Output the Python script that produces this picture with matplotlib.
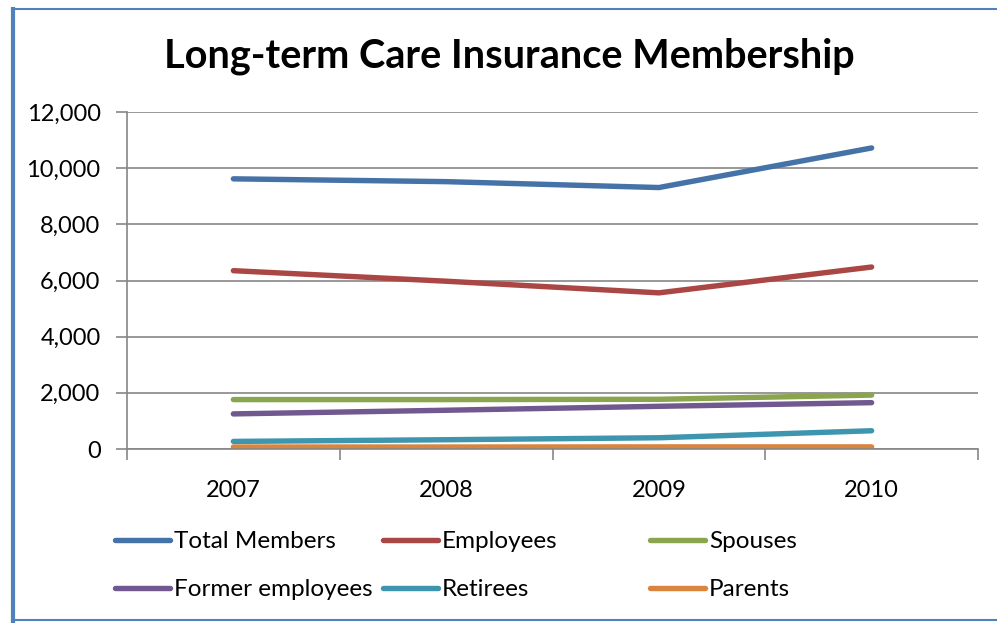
import matplotlib
matplotlib.use("Agg")
import matplotlib.pyplot as plt
from matplotlib.lines import Line2D
from matplotlib.ticker import FuncFormatter, FixedLocator

plt.rcParams['font.family'] = ['Lato', 'DejaVu Sans']

years = ["2007", "2008", "2009", "2010"]
total_members = [9620, 9520, 9310, 10720]
employees = [6350, 5975, 5560, 6480]
spouses = [1760, 1760, 1770, 1920]
former_employees = [1250, 1380, 1520, 1650]
retirees = [270, 330, 400, 650]
parents = [70, 70, 75, 75]

series_names = ["Total Members", "Employees", "Spouses",
                "Former employees", "Retirees", "Parents"]
series_values = [total_members, employees, spouses,
                 former_employees, retirees, parents]
colors = ['#4572A7', '#AA4643', '#89A54E', '#71588F', '#3D96AE', '#DB843D']

W, H = 997, 623
fig = plt.figure(figsize=(W / 100, H / 100), dpi=100)
ax = fig.add_axes([127 / W, 1 - 449 / H, (978 - 127) / W, (449 - 112) / H])

x = list(range(len(years)))
for name, vals, c in zip(series_names, series_values, colors):
    ax.plot(x, vals, color=c, lw=3.9, solid_capstyle='round',
            solid_joinstyle='round', label=name)

ax.set_xlim(-0.5, len(years) - 0.5)
ax.set_ylim(0, 12000)
ax.yaxis.set_major_locator(FixedLocator([0, 2000, 4000, 6000, 8000, 10000, 12000]))
ax.yaxis.set_major_formatter(FuncFormatter(lambda v, p: f"{int(v):,}"))
ax.set_xticks(x)
ax.set_xticklabels(years)
ax.set_xticks([i - 0.5 for i in range(len(years) + 1)], minor=True)
ax.tick_params(axis='x', which='major', length=0, pad=22, labelsize=17)
ax.tick_params(axis='x', which='minor', length=8, width=1.2, color='#868686', direction='out')
ax.tick_params(axis='y', length=8, width=1.2, color='#868686', direction='out',
               pad=11, labelsize=17)
ax.grid(axis='y', color='#868686', lw=1.2)
ax.set_axisbelow(True)
for s in ['top', 'right']:
    ax.spines[s].set_visible(False)
ax.spines['left'].set_color('#868686')
ax.spines['bottom'].set_color('#868686')
ax.spines['left'].set_linewidth(1.2)
ax.spines['bottom'].set_linewidth(1.2)

fig.text(509 / W, 1 - 56 / H, "Long-term Care Insurance Membership",
         ha='center', va='center', fontsize=28.5, fontweight='bold')

# legend (3 columns x 2 rows, row-major as in the reference)
col_x = [115, 383, 650]
row_y = [540, 588]
for i, (name, c) in enumerate(zip(series_names, colors)):
    r, k = divmod(i, 3)
    x0 = col_x[k]
    y0 = 1 - row_y[r] / H
    fig.add_artist(Line2D([x0 / W, (x0 + 55) / W], [y0, y0], color=c, lw=3.9,
                          solid_capstyle='round', transform=fig.transFigure))
    fig.text((x0 + 59) / W, y0 - 2 / H, name, ha='left', va='center', fontsize=17.5)

# chart border
bc = '#4F81BD'
fig.add_artist(Line2D([13 / W, 13 / W], [0, 1 - 9 / H], color=bc, lw=3,
                      transform=fig.transFigure))
fig.add_artist(Line2D([12 / W, 1], [1 - 9 / H, 1 - 9 / H], color=bc, lw=1.5,
                      transform=fig.transFigure))
fig.add_artist(Line2D([12 / W, 1], [1 - 620 / H, 1 - 620 / H], color=bc, lw=1.5,
                      transform=fig.transFigure))

fig.savefig("out.png", dpi=100)
